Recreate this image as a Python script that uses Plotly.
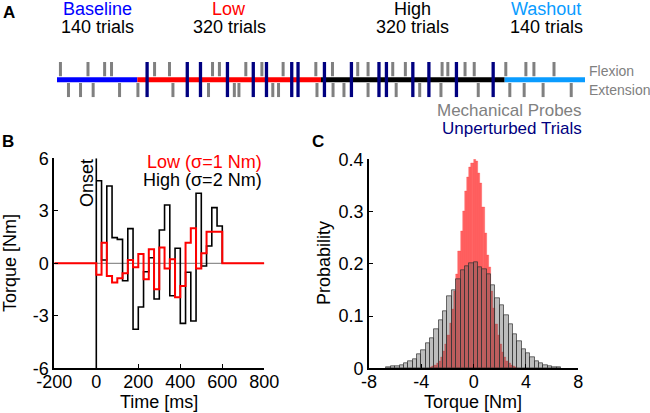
import plotly.graph_objects as go

W, H = 650, 413
FONT = "Liberation Sans, Arial, sans-serif"

# ---------------- Panel A data ----------------
phase_names = ["Baseline", "Low", "High", "Washout"]
phase_trials = [140, 320, 320, 140]
phase_colors = ["#0000ff", "#ff0000", "#000000", "#0a9cff"]
flexion_probes = [6, 54, 83, 95, 170, 196, 271, 283, 329, 357, 394, 451, 480, 524,
                  542, 585, 607, 671, 681, 711, 727, 782, 817, 831, 866]
extension_probes = [20, 41, 63, 109, 141, 202, 264, 309, 317, 376, 386, 453, 481, 500,
                    542, 591, 632, 669, 734, 789, 814, 847, 896]
unperturbed_trials = [157, 227, 250, 297, 342, 365, 409, 420, 466, 513, 561, 574,
                      620, 648, 696, 760]

# ---------------- Panel B data ----------------
step_ms = 25
step_times = [i * step_ms for i in range(24)]
low_torque = [-0.65, 1.18, -0.72, -1.1, -0.86, -0.57, 0.19, -0.23, 0.53, -0.91, 0.8, -1.49,
              0.9, -0.29, 0.23, -1.94, -1.3, 1.18, 2.0, -0.29, 0.57, 1.8, 1.8, 1.8]
high_torque = [4.72, 0.19, 4.42, 1.47, 1.37, -1.0, 1.98, -3.77, -2.5, -0.48, 0.32, -2.04,
               1.9, 3.33, -1.85, 0.86, -3.43, -0.51, -3.3, 4.0, -0.15, 0.99, 3.18, 2.13]
b_xticks = [-200, 0, 200, 400, 600, 800]
b_yticks = [-6, -3, 0, 3, 6]

# ---------------- Panel C data ----------------
high_bin_centers = [(k + 0.5) / 3 for k in range(-20, 20)]
high_prob = [0.002, 0.003, 0.004, 0.006, 0.010, 0.014, 0.017, 0.026, 0.035, 0.047,
             0.057, 0.075, 0.091, 0.110, 0.137, 0.149, 0.170, 0.187, 0.196, 0.201,
             0.202, 0.193, 0.190, 0.179, 0.158, 0.134, 0.121, 0.102, 0.085, 0.066,
             0.051, 0.036, 0.029, 0.021, 0.013, 0.010, 0.006, 0.003, 0.002, 0.001]
low_bin_centers = [(k + 0.5) / 6 for k in range(-20, 20)]
low_prob = [0.002, 0.003, 0.006, 0.009, 0.014, 0.021, 0.032, 0.046, 0.063, 0.087,
            0.113, 0.147, 0.180, 0.224, 0.262, 0.300, 0.338, 0.366, 0.385, 0.392,
            0.400, 0.397, 0.373, 0.354, 0.309, 0.258, 0.217, 0.193, 0.147, 0.114,
            0.085, 0.064, 0.045, 0.031, 0.021, 0.013, 0.009, 0.005, 0.003, 0.002]
c_xticks = [-8, -4, 0, 4, 8]
c_yticks = [0, 0.1, 0.2, 0.3, 0.4]


def px(x):
    return x / W


def py(y):
    return 1 - y / H


def lbl(v):
    return f"{v:g}"  # plain hyphen-minus like the original


fig = go.Figure()

# ---------- Panel A ----------
def segs(xs, y0, y1):
    X, Y = [], []
    for t in xs:
        X += [t, t, None]
        Y += [y0, y1, None]
    return X, Y

X, Y = segs(flexion_probes, 0.19, 1)
fig.add_trace(go.Scatter(x=X, y=Y, mode="lines", line=dict(color="#808080", width=3),
                         xaxis="x", yaxis="y", hoverinfo="skip"))
X, Y = segs(extension_probes, -0.19, -1)
fig.add_trace(go.Scatter(x=X, y=Y, mode="lines", line=dict(color="#808080", width=3),
                         xaxis="x", yaxis="y", hoverinfo="skip"))
start = 0
for n, c in zip(phase_trials, phase_colors):
    fig.add_trace(go.Scatter(x=[start, start + n], y=[0, 0], mode="lines",
                             line=dict(color=c, width=5), xaxis="x", yaxis="y",
                             hoverinfo="skip"))
    start += n
X, Y = segs(unperturbed_trials, -1, 1)
fig.add_trace(go.Scatter(x=X, y=Y, mode="lines", line=dict(color="#000080", width=3.3),
                         xaxis="x", yaxis="y", hoverinfo="skip"))

# ---------- Panel B ----------
fig.add_trace(go.Scatter(x=[-200, 800], y=[0, 0], mode="lines",
                         line=dict(color="#909090", width=1.2), xaxis="x2", yaxis="y2"))
fig.add_trace(go.Scatter(x=[0, 0], y=[-6, 6], mode="lines",
                         line=dict(color="black", width=1.6), xaxis="x2", yaxis="y2"))
fig.add_trace(go.Scatter(x=step_times + [600], y=high_torque + [0], mode="lines",
                         line=dict(color="black", width=1.6, shape="hv"),
                         xaxis="x2", yaxis="y2"))
fig.add_trace(go.Scatter(x=[-200] + step_times + [600, 800], y=[0] + low_torque + [0, 0],
                         mode="lines", line=dict(color="#ff0000", width=2, shape="hv"),
                         xaxis="x2", yaxis="y2"))

# ---------- Panel C ----------
fig.add_trace(go.Bar(x=low_bin_centers, y=low_prob, width=1 / 6,
                     marker=dict(color="rgba(255,0,0,0.6)",
                                 line=dict(color="rgba(255,60,60,0.5)", width=0.6)),
                     xaxis="x3", yaxis="y3"))
fig.add_trace(go.Bar(x=high_bin_centers, y=high_prob, width=1 / 3,
                     marker=dict(color="rgba(90,90,90,0.4)",
                                 line=dict(color="rgba(50,50,50,0.7)", width=1)),
                     xaxis="x3", yaxis="y3"))

axis_common = dict(showgrid=False, zeroline=False, showline=True, linecolor="black",
                   linewidth=1.8, ticks="inside", ticklen=4, tickwidth=1.2,
                   tickcolor="black", tickfont=dict(family=FONT, size=18, color="black"),
                   mirror=False)

fig.update_layout(
    width=W, height=H, margin=dict(l=0, r=0, t=0, b=0, pad=0, autoexpand=False),
    paper_bgcolor="white", plot_bgcolor="rgba(0,0,0,0)",
    showlegend=False, barmode="overlay", bargap=0,
    font=dict(family=FONT, size=18, color="black"),
    xaxis=dict(domain=[px(57), px(585)], range=[0, 920], visible=False, anchor="y"),
    yaxis=dict(domain=[py(97.3), py(62)], range=[-1, 1], visible=False, anchor="x"),
    xaxis2=dict(domain=[px(54.3), px(264.3)], range=[-200, 800], anchor="y2",
                tickvals=b_xticks, ticktext=[lbl(v) for v in b_xticks],
                ticklabelstandoff=-4, **axis_common),
    yaxis2=dict(domain=[py(368.3), py(158.3)], range=[-6, 6], anchor="x2",
                tickvals=b_yticks, ticktext=[lbl(v) for v in b_yticks], **axis_common),
    xaxis3=dict(domain=[px(369), px(578.3)], range=[-8, 8], anchor="y3",
                tickvals=c_xticks, ticktext=[lbl(v) for v in c_xticks],
                ticklabelstandoff=-4, **axis_common),
    yaxis3=dict(domain=[py(368.3), py(159.3)], range=[0, 0.4], anchor="x3",
                tickvals=c_yticks, ticktext=[lbl(v) for v in c_yticks], **axis_common),
)

ann = []

def text(x, y, s, size=18, color="black", xanchor="center", bold=False, angle=0):
    ann.append(dict(x=px(x), y=py(y), xref="paper", yref="paper",
                    text=f"<b>{s}</b>" if bold else s,
                    showarrow=False, xanchor=xanchor, yanchor="middle", textangle=angle,
                    font=dict(family=FONT, size=size, color=color)))

# Panel A labels
centers = [97, 229, 412.5, 546]
for name, n, c, cx in zip(phase_names, phase_trials, phase_colors, centers):
    text(cx, 9, name, 18, c)
    text(cx, 27, f"{n} trials", 18, "black")
text(587, 70.5, "Flexion", 14, "#808080", xanchor="left")
text(587, 90.5, "Extension", 14, "#808080", xanchor="left")
text(584, 110.5, "Mechanical Probes", 17, "#808080", xanchor="right")
text(584, 129, "Unperturbed Trials", 17, "#000080", xanchor="right")

# Panel letters
text(9, 13, "A", 17, bold=True)
text(8, 141, "B", 17, bold=True)
text(318, 141, "C", 17, bold=True)

# Panel B texts
text(87, 183, "Onset", 18, angle=-90)
text(264, 161.7, "Low (σ=1 Nm)", 18, "#ff0000", xanchor="right")
text(264, 180, "High (σ=2 Nm)", 18, "black", xanchor="right")
text(10, 263, "Torque [Nm]", 18, angle=-90)
text(159, 402, "Time [ms]", 18)

# Panel C texts
text(323.5, 263.5, "Probability", 18, angle=-90)
text(473.3, 402, "Torque [Nm]", 18)

fig.update_layout(annotations=ann)
fig.write_html("out.html", config={"displayModeBar": False},
               post_script="document.body.style.margin='0';")
